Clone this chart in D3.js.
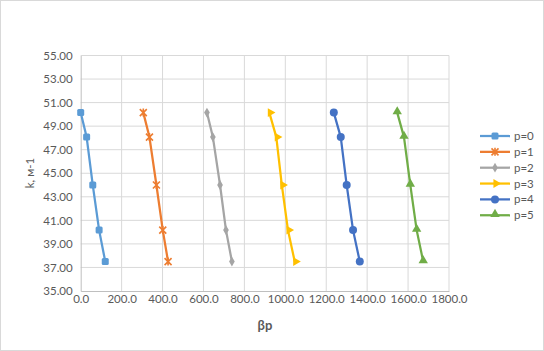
<!DOCTYPE html>
<html>
<head>
<meta charset="utf-8">
<script src="https://cdn.jsdelivr.net/npm/d3@7"></script>
<style>
  body { margin: 0; background: #fff; }
  text { font-family: Lato, "Liberation Sans", sans-serif; fill: #595959; }
</style>
</head>
<body>
<div id="chart"></div>
<script>
// k values (y), shared by every series
var kValues = [50.15, 48.07, 44.0, 40.17, 37.5];

// beta*p values (x) for each series
var p0 = [0, 29, 59, 90, 120];
var p1 = [306, 336, 370, 401, 427];
var p2 = [617, 646, 681, 710, 739];
var p3 = [922, 956, 983, 1013, 1046];
var p4 = [1237, 1271, 1300, 1331, 1364];
var p5 = [1547, 1580, 1611, 1642, 1674];

var seriesNames = ["p=0", "p=1", "p=2", "p=3", "p=4", "p=5"];
var xTicks = [0, 200, 400, 600, 800, 1000, 1200, 1400, 1600, 1800];
var yTicks = [35, 37, 39, 41, 43, 45, 47, 49, 51, 53, 55];

var colors = ["#5B9BD5", "#ED7D31", "#A5A5A5", "#FFC000", "#4472C4", "#70AD47"];
var shapes = ["square", "star", "diamond", "tri", "circle", "triangle"];

var series = [p0, p1, p2, p3, p4, p5].map(function(xs, i) {
  return {
    name: seriesNames[i],
    color: colors[i],
    shape: shapes[i],
    points: xs.map(function(x, j) { return { x: x, y: kValues[j] }; })
  };
});

var width = 544, height = 351;
var svg = d3.select("#chart").append("svg")
  .attr("width", width)
  .attr("height", height);

svg.append("rect")
  .attr("x", 0.5).attr("y", 0.5)
  .attr("width", width - 1).attr("height", height - 1)
  .attr("fill", "white")
  .attr("stroke", "#d9d9d9");

var x = d3.scaleLinear().domain([0, 1800]).range([80.7, 449]);
var y = d3.scaleLinear().domain([35, 55]).range([291, 55.5]);

// gridlines
var grid = svg.append("g");
grid.selectAll(".vg").data(xTicks.slice(1)).enter().append("line")
  .attr("x1", function(d) { return x(d); }).attr("x2", function(d) { return x(d); })
  .attr("y1", y(55)).attr("y2", y(35))
  .attr("stroke", "#d9d9d9").attr("stroke-width", 1);
grid.selectAll(".hg").data(yTicks.slice(1)).enter().append("line")
  .attr("x1", x(0)).attr("x2", x(1800))
  .attr("y1", function(d) { return y(d); }).attr("y2", function(d) { return y(d); })
  .attr("stroke", "#d9d9d9").attr("stroke-width", 1);

// axes
var xAxis = svg.append("g")
  .attr("transform", "translate(0," + y(35) + ")")
  .call(d3.axisBottom(x).tickValues(xTicks).tickSize(0).tickPadding(4)
    .tickFormat(function(d) { return d3.format(".1f")(d); }));
xAxis.select(".domain").attr("stroke", "#bfbfbf");
xAxis.selectAll("text").style("font-size", "11.5px").attr("fill", "#595959");

var yAxis = svg.append("g")
  .attr("transform", "translate(" + x(0) + ",0)")
  .call(d3.axisLeft(y).tickValues(yTicks).tickSize(0).tickPadding(8)
    .tickFormat(function(d) { return d3.format(".2f")(d); }));
yAxis.select(".domain").attr("stroke", "#bfbfbf");
yAxis.selectAll("text").style("font-size", "11.5px").attr("fill", "#595959");

// axis titles
svg.append("text")
  .attr("x", 265).attr("y", 330)
  .attr("text-anchor", "middle")
  .style("font-size", "13px").style("font-weight", "bold")
  .text("βp");

svg.append("text")
  .attr("transform", "translate(34,173) rotate(-90)")
  .attr("text-anchor", "middle")
  .style("font-size", "11.5px")
  .text("k, м-1");

function marker(g, shape, color, cx, cy) {
  var s;
  if (shape === "square") {
    g.append("rect").attr("x", cx - 3.5).attr("y", cy - 3.5)
      .attr("width", 7).attr("height", 7).attr("rx", 1.5).attr("fill", color);
  } else if (shape === "circle") {
    g.append("circle").attr("cx", cx).attr("cy", cy).attr("r", 4).attr("fill", color);
  } else if (shape === "diamond") {
    s = d3.symbol().type(d3.symbolDiamond).size(28)();
    g.append("path").attr("d", s).attr("transform", "translate(" + cx + "," + cy + ")").attr("fill", color);
  } else if (shape === "triangle") {
    s = d3.symbol().type(d3.symbolTriangle).size(38)();
    g.append("path").attr("d", s).attr("transform", "translate(" + cx + "," + (cy - 1) + ")").attr("fill", color);
  } else if (shape === "tri") {
    s = d3.symbol().type(d3.symbolTriangle).size(34)();
    g.append("path").attr("d", s).attr("transform", "translate(" + (cx + 1) + "," + cy + ") rotate(90)").attr("fill", color);
  } else if (shape === "star") {
    g.append("path")
      .attr("d", "M" + (cx - 3.5) + "," + (cy - 3.5) + "L" + (cx + 3.5) + "," + (cy + 3.5) +
        "M" + (cx + 3.5) + "," + (cy - 3.5) + "L" + (cx - 3.5) + "," + (cy + 3.5) +
        "M" + cx + "," + (cy - 4) + "L" + cx + "," + (cy + 4))
      .attr("stroke", color).attr("stroke-width", 1.6).attr("fill", "none");
  }
}

var line = d3.line().x(function(d) { return x(d.x); }).y(function(d) { return y(d.y); });

series.forEach(function(s) {
  var g = svg.append("g");
  g.append("path")
    .attr("d", line(s.points))
    .attr("fill", "none")
    .attr("stroke", s.color)
    .attr("stroke-width", 2.25)
    .attr("stroke-linejoin", "round");
  s.points.forEach(function(p) { marker(g, s.shape, s.color, x(p.x), y(p.y)); });
});

// legend
var legend = svg.append("g").attr("transform", "translate(480,136)");
series.forEach(function(s, i) {
  var row = legend.append("g").attr("transform", "translate(0," + (i * 15.85) + ")");
  row.append("line").attr("x1", 0).attr("x2", 30).attr("y1", 0).attr("y2", 0)
    .attr("stroke", s.color).attr("stroke-width", 2.25);
  marker(row, s.shape, s.color, 15, 0);
  row.append("text").attr("x", 34).attr("y", 4)
    .style("font-size", "11.5px")
    .text(s.name);
});
</script>
</body>
</html>
